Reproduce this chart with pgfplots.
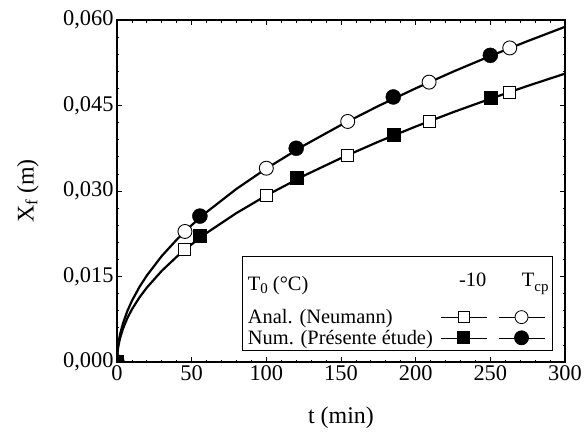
\documentclass[border=0pt]{standalone}
\usepackage{fontspec}
\setmainfont{Liberation Serif}
\usepackage{pgfplots}
\pgfplotsset{compat=1.18}
\pgfplotstableread{
t y
0 0
0.5 0.00240
1 0.00340
2 0.00480
4 0.00679
7 0.00898
10 0.01074
15 0.01315
20 0.01518
30 0.01860
40 0.02147
50 0.02401
60 0.02630
80 0.03037
100 0.03395
125 0.03796
150 0.04158
175 0.04491
200 0.04801
225 0.05093
250 0.05368
275 0.05630
300 0.05880
}\uppercurve
\pgfplotstableread{
t y
0 0
0.5 0.00207
1 0.00292
2 0.00413
4 0.00584
7 0.00773
10 0.00924
15 0.01131
20 0.01306
30 0.01600
40 0.01847
50 0.02065
60 0.02263
80 0.02613
100 0.02921
125 0.03266
150 0.03577
175 0.03864
200 0.04131
225 0.04382
250 0.04618
275 0.04844
300 0.05059
}\lowercurve
\begin{document}
\begin{tikzpicture}
\useasboundingbox (-117bp,-73bp) rectangle (469bp,362bp);
\begin{axis}[
  at={(0,0)}, anchor=south west,
  scale only axis, width=448bp, height=342bp,
  xmin=0, xmax=300, ymin=0, ymax=0.06,
  xtick={0,50,100,150,200,250,300},
  ytick={0,0.015,0.03,0.045,0.06},
  minor x tick num=4, minor y tick num=4,
  tick align=inside,
  major tick length=5bp, minor tick length=2.5bp,
  axis line style={line width=1.1bp},
  every tick/.style={black, line width=0.8bp},
  scaled y ticks=false,
  yticklabel style={/pgf/number format/.cd, fixed, fixed zerofill, precision=3, use comma},
  /pgf/number format/assume math mode=true,
  tick label style={font=\fontsize{22.5}{27}\selectfont},
  label style={font=\fontsize{24}{29}\selectfont},
  xlabel={t (min)},
  ylabel={X\raisebox{-0.35ex}{\fontsize{17}{17}\selectfont f} (m)},
  xlabel style={at={(axis description cs:0.5,-0.164)}, anchor=center},
  ylabel style={at={(axis description cs:-0.199,0.5)}, anchor=center},
  clip marker paths=true,
  legend columns=3, legend plot pos=right, legend cell align=left,
  legend style={at={(0.973,0.032)}, anchor=south east, draw=black, line width=0.8bp,
    font=\fontsize{20.5}{24}\selectfont, column sep=0.5bp, row sep=1bp,
    inner xsep=4bp, inner ysep=3bp,
    nodes={inner xsep=2bp, inner ysep=2bp}},
]
\addplot[black, line width=2.2bp, forget plot] table[x=t,y=y] {\uppercurve};
\addplot[black, line width=2.2bp, forget plot] table[x=t,y=y] {\lowercurve};
% Anal. -10 (open squares)
\addplot[only marks, mark=square*, mark size=6bp, mark options={fill=white, draw=black, line width=0.9bp}, forget plot]
  coordinates {(45.5,0.0198) (100,0.0292) (154.5,0.0363) (209,0.0422) (263,0.0473)};
% Anal. Tcp (open circles)
\addplot[only marks, mark=*, mark size=7bp, mark options={fill=white, draw=black, line width=0.9bp}, forget plot]
  coordinates {(45.5,0.0229) (100,0.0340) (154.5,0.0422) (209,0.0491) (263,0.0551)};
% Num. -10 (filled squares)
\addplot[only marks, mark=square*, mark size=6.5bp, mark options={fill=black, draw=black}, forget plot]
  coordinates {(0,0) (55.5,0.0221) (120,0.0323) (185,0.0399) (250,0.0464)};
% Num. Tcp (filled circles)
\addplot[only marks, mark=*, mark size=7.5bp, mark options={fill=black, draw=black}, forget plot]
  coordinates {(0,0) (55.5,0.0256) (120,0.0375) (185,0.0465) (250,0.0538)};

% legend
\addlegendimage{empty legend}
\addlegendentry{T\raisebox{-0.4ex}{\fontsize{15}{15}\selectfont 0} (°C)}
\addlegendimage{legend image code/.code={\node[inner sep=0pt] at (18bp,0.3em) {-10};\path (0,-22bp) (46bp,24bp);}}
\addlegendentry{\hspace{0pt}}
\addlegendimage{legend image code/.code={\node[inner sep=0pt] at (23bp,0.3em) {T\raisebox{-0.5ex}{\fontsize{15}{15}\selectfont cp}};\path (-6bp,0) (46bp,0);}}
\addlegendentry{\hspace{0pt}}
\addlegendimage{empty legend}
\addlegendentry{Anal. (Neumann)}
\addlegendimage{legend image code/.code={\draw[black, line width=0.6bp] (0,0) -- (46bp,0); \draw[black, line width=0.8bp, fill=white] (17.5bp,-5.5bp) rectangle (28.5bp,5.5bp);}}
\addlegendentry{\hspace{0pt}}
\addlegendimage{legend image code/.code={\draw[black, line width=0.6bp] (0,0) -- (46bp,0); \draw[black, line width=0.8bp, fill=white] (23bp,0) circle (6.5bp); \path (-6bp,0);}}
\addlegendentry{\hspace{0pt}}
\addlegendimage{empty legend}
\addlegendentry{Num. (Présente étude)}
\addlegendimage{legend image code/.code={\draw[black, line width=0.6bp] (0,0) -- (46bp,0); \fill[black] (17bp,-6bp) rectangle (29bp,6bp);}}
\addlegendentry{\hspace{0pt}}
\addlegendimage{legend image code/.code={\draw[black, line width=0.6bp] (0,0) -- (46bp,0); \fill[black] (23bp,0) circle (7bp); \path (-6bp,0);}}
\addlegendentry{\hspace{0pt}}
\end{axis}
\end{tikzpicture}
\end{document}
